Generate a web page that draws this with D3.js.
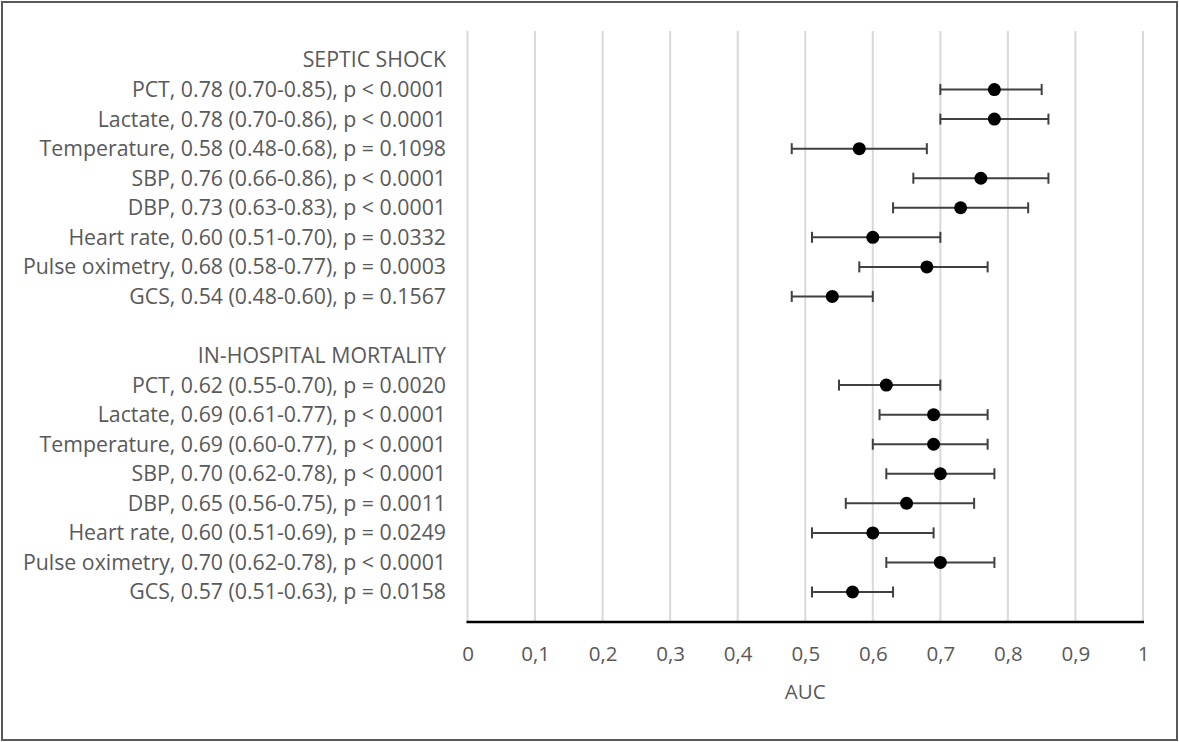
<!DOCTYPE html>
<head>
  <meta charset="utf-8">
  <style>
    body { margin: 0; background: #fff; }
    text { font-family: "Open Sans", sans-serif; fill: #595959; }
  </style>
  <script src="https://cdn.jsdelivr.net/npm/d3@7"></script>
</head>
<body>
  <div id="chart"></div>
  <script>
  // groups and their rows (top to bottom)
  var groups = ["SEPTIC SHOCK", "IN-HOSPITAL MORTALITY"];
  var markers = ["PCT", "Lactate", "Temperature", "SBP", "DBP", "Heart rate", "Pulse oximetry", "GCS"];

  // septic shock
  var shockAuc = [0.78, 0.78, 0.58, 0.76, 0.73, 0.60, 0.68, 0.54];
  var shockLo  = [0.70, 0.70, 0.48, 0.66, 0.63, 0.51, 0.58, 0.48];
  var shockHi  = [0.85, 0.86, 0.68, 0.86, 0.83, 0.70, 0.77, 0.60];
  var shockP   = ["< 0.0001", "< 0.0001", "= 0.1098", "< 0.0001", "< 0.0001", "= 0.0332", "= 0.0003", "= 0.1567"];

  // in-hospital mortality
  var mortAuc = [0.62, 0.69, 0.69, 0.70, 0.65, 0.60, 0.70, 0.57];
  var mortLo  = [0.55, 0.61, 0.60, 0.62, 0.56, 0.51, 0.62, 0.51];
  var mortHi  = [0.70, 0.77, 0.77, 0.78, 0.75, 0.69, 0.78, 0.63];
  var mortP   = ["= 0.0020", "< 0.0001", "< 0.0001", "< 0.0001", "= 0.0011", "= 0.0249", "< 0.0001", "= 0.0158"];

  var xTicks = [0, 0.1, 0.2, 0.3, 0.4, 0.5, 0.6, 0.7, 0.8, 0.9, 1];

  var W = 1179, H = 742;

  // build the row list: header, 8 rows, blank, header, 8 rows
  var rows = [];
  var sets = [[shockAuc, shockLo, shockHi, shockP], [mortAuc, mortLo, mortHi, mortP]];
  groups.forEach(function(g, gi) {
    if (gi > 0) rows.push({type: "blank"});
    rows.push({type: "header", label: g});
    var s = sets[gi];
    markers.forEach(function(m, i) {
      rows.push({
        type: "data",
        auc: s[0][i], lo: s[1][i], hi: s[2][i],
        label: m + ", " + s[0][i].toFixed(2) + " (" + s[1][i].toFixed(2) + "-" + s[2][i].toFixed(2) + "), p " + s[3][i]
      });
    });
  });
  rows.forEach(function(r, i) { r.i = i; });

  var x = d3.scaleLinear().domain([0, 1]).range([467.5, 1143]);
  var y = d3.scalePoint().domain(d3.range(rows.length)).range([60, 592]);

  var plotTop = 31, plotBottom = 622;

  var svg = d3.select("#chart").append("svg")
      .attr("width", W)
      .attr("height", H);

  // outer frame
  svg.append("rect")
      .attr("x", 2).attr("y", 2)
      .attr("width", W - 4).attr("height", H - 4)
      .attr("fill", "#fff")
      .attr("stroke", "#595959")
      .attr("stroke-width", 2);

  // vertical gridlines
  svg.append("g")
    .selectAll("line")
    .data(xTicks)
    .enter().append("line")
      .attr("x1", function(d) { return x(d); })
      .attr("x2", function(d) { return x(d); })
      .attr("y1", plotTop)
      .attr("y2", plotBottom)
      .attr("stroke", "#d9d9d9")
      .attr("stroke-width", 2);

  // x axis
  var xAxis = d3.axisBottom(x)
      .tickValues(xTicks)
      .tickSize(0)
      .tickFormat(function(d) { return String(d).replace(".", ","); });

  var gx = svg.append("g")
      .attr("transform", "translate(0," + plotBottom + ")")
      .call(xAxis);
  gx.select(".domain").remove();
  gx.selectAll(".tick text")
      .attr("y", 32)
      .attr("dy", "0.35em")
      .attr("fill", "#595959")
      .style("font-size", "20.5px")
      .style("font-family", "'Open Sans', sans-serif");

  svg.append("line")
      .attr("x1", x(0) - 1).attr("x2", x(1) + 1)
      .attr("y1", plotBottom).attr("y2", plotBottom)
      .attr("stroke", "#000")
      .attr("stroke-width", 2.5);

  svg.append("text")
      .attr("x", (x(0) + x(1)) / 2)
      .attr("y", 692)
      .attr("dy", "0.35em")
      .attr("text-anchor", "middle")
      .style("font-size", "20.5px")
      .text("AUC");

  // row labels
  svg.append("g")
    .selectAll("text")
    .data(rows.filter(function(r) { return r.type !== "blank"; }))
    .enter().append("text")
      .attr("x", 446)
      .attr("y", function(d) { return y(d.i); })
      .attr("dy", "0.35em")
      .attr("text-anchor", "end")
      .style("font-size", "21.3px")
      .text(function(d) { return d.label; });

  // error bars and points
  var data = rows.filter(function(r) { return r.type === "data"; });

  var marks = svg.append("g")
    .selectAll("g")
    .data(data)
    .enter().append("g")
      .attr("transform", function(d) { return "translate(0," + y(d.i) + ")"; });

  marks.append("line")
      .attr("x1", function(d) { return x(d.lo); })
      .attr("x2", function(d) { return x(d.hi); })
      .attr("stroke", "#404040")
      .attr("stroke-width", 2);

  marks.selectAll(".cap")
    .data(function(d) { return [d.lo, d.hi]; })
    .enter().append("line")
      .attr("class", "cap")
      .attr("x1", function(v) { return x(v); })
      .attr("x2", function(v) { return x(v); })
      .attr("y1", -5.5).attr("y2", 5.5)
      .attr("stroke", "#404040")
      .attr("stroke-width", 2);

  marks.append("circle")
      .attr("cx", function(d) { return x(d.auc); })
      .attr("r", 6.5)
      .attr("fill", "#000");
  </script>
</body>
</html>
